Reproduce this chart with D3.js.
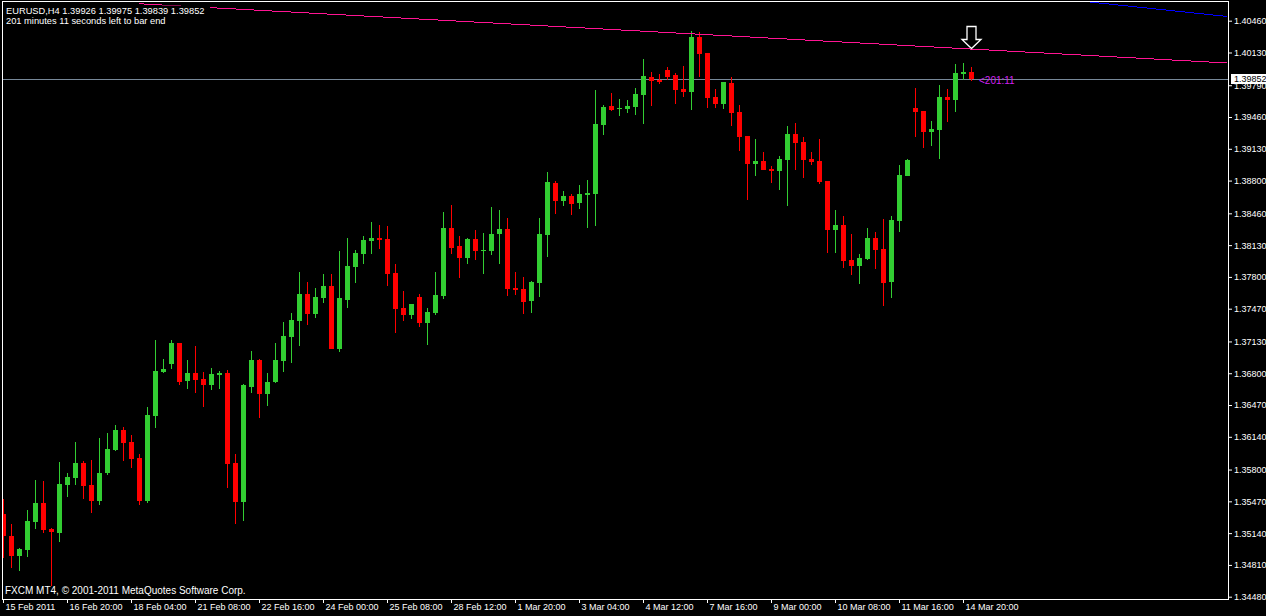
<!DOCTYPE html>
<html>
<head>
<meta charset="utf-8">
<script src="https://cdn.jsdelivr.net/npm/d3@7"></script>
<style>
body{margin:0;background:#000;overflow:hidden}
svg{display:block}
text{font-family:"Liberation Sans",Arial,sans-serif}
</style>
</head>
<body>
<svg width="1266" height="616"></svg>
<script>
// EURUSD H4, 122 bars
var symbol = "EURUSD,H4";
var timeLabels = ["15 Feb 2011","16 Feb 20:00","18 Feb 04:00","21 Feb 08:00","22 Feb 16:00","24 Feb 00:00",
  "25 Feb 08:00","28 Feb 12:00","1 Mar 20:00","3 Mar 04:00","4 Mar 12:00","7 Mar 16:00","9 Mar 00:00",
  "10 Mar 08:00","11 Mar 16:00","14 Mar 20:00"];
var priceTicks = [1.40460,1.40130,1.39790,1.39460,1.39130,1.38800,1.38460,1.38130,1.37800,1.37470,
  1.37130,1.36800,1.36470,1.36140,1.35800,1.35470,1.35140,1.34810,1.34480];

var opens = [1.35339,1.35115,1.34906,1.34968,1.35259,1.35453,1.35183,1.35144,1.35643,1.35715,
  1.35868,1.35640,1.35477,1.35767,1.36006,1.36211,1.36086,1.35920,1.35477,1.36359,
  1.36813,1.36899,1.37114,1.36723,1.36802,1.36740,1.36681,1.36782,1.36802,1.35868,
  1.35466,1.36660,1.36937,1.36588,1.36712,1.36930,1.37179,1.37345,1.37623,1.37418,
  1.37584,1.37706,1.37055,1.37564,1.37906,1.38041,1.38176,1.38204,1.38194,1.37841,
  1.37477,1.37408,1.37591,1.37325,1.37428,1.37605,1.38308,1.38121,1.38000,1.38194,
  1.38072,1.38072,1.38249,1.38297,1.37688,1.37675,1.37553,1.37740,1.38238,1.38775,
  1.38591,1.38640,1.38571,1.38654,1.38664,1.39380,1.39574,1.39543,1.39543,1.39567,
  1.39692,1.39876,1.39844,1.39948,1.39896,1.39751,1.39720,1.40291,1.40125,1.39668,
  1.39595,1.39813,1.39512,1.39263,1.38972,1.39003,1.38920,1.38900,1.39014,1.39284,
  1.39201,1.39024,1.39003,1.38796,1.38287,1.38339,1.37976,1.37913,1.37986,1.38204,
  1.38090,1.37747,1.38381,1.38848,1.39554,1.39523,1.39305,1.39325,1.39668,1.39637,
  1.39907,1.39926];
var highs = [1.35494,1.35235,1.34983,1.35380,1.35692,1.35681,1.35193,1.35878,1.35761,1.36086,
  1.35889,1.35899,1.36128,1.36180,1.36263,1.36242,1.36159,1.35962,1.36449,1.37145,
  1.36948,1.37145,1.37118,1.36937,1.37083,1.36813,1.36854,1.36823,1.36834,1.35962,
  1.36685,1.37031,1.36948,1.36802,1.37114,1.37332,1.37425,1.37851,1.37747,1.37685,
  1.37830,1.37830,1.38069,1.38204,1.38079,1.38225,1.38370,1.38339,1.38329,1.37934,
  1.37654,1.37522,1.37623,1.37477,1.37851,1.38474,1.38547,1.38225,1.38204,1.38287,
  1.38256,1.38526,1.38495,1.38412,1.37851,1.37799,1.37761,1.38412,1.38889,1.38796,
  1.38692,1.38661,1.38754,1.38806,1.39741,1.39585,1.39709,1.39647,1.39637,1.39761,
  1.40062,1.39927,1.39907,1.39979,1.39917,1.39990,1.40353,1.40343,1.40128,1.39751,
  1.39826,1.39876,1.39585,1.39266,1.39232,1.39097,1.38952,1.39055,1.39367,1.39398,
  1.39253,1.39097,1.39232,1.38799,1.38495,1.38432,1.38246,1.38038,1.38308,1.38266,
  1.38401,1.38432,1.38962,1.39024,1.39761,1.39526,1.39419,1.39792,1.39751,1.40011,
  1.40021,1.39975];
var lows = [1.34885,1.34781,1.34750,1.34895,1.35183,1.35144,1.34591,1.35051,1.35515,1.35640,
  1.35494,1.35352,1.35435,1.35743,1.35996,1.35892,1.35819,1.35435,1.35456,1.36235,
  1.36802,1.36847,1.36681,1.36639,1.36598,1.36453,1.36629,1.36639,1.35612,1.35238,
  1.35269,1.36598,1.36338,1.36463,1.36702,1.36816,1.36909,1.37086,1.37304,1.37377,
  1.37532,1.37052,1.37024,1.37480,1.37740,1.37937,1.38041,1.38093,1.37709,1.37221,
  1.37345,1.37366,1.37283,1.37096,1.37408,1.37574,1.38041,1.37792,1.37937,1.37979,
  1.37833,1.38031,1.37937,1.37605,1.37615,1.37418,1.37428,1.37595,1.38010,1.38456,
  1.38539,1.38446,1.38508,1.38311,1.38332,1.39276,1.39523,1.39474,1.39502,1.39484,
  1.39391,1.39574,1.39803,1.39844,1.39595,1.39668,1.39533,1.39876,1.39554,1.39554,
  1.39543,1.39367,1.39107,1.38599,1.38848,1.38907,1.38775,1.38702,1.38536,1.38910,
  1.38827,1.38962,1.38765,1.38048,1.38048,1.37893,1.37820,1.37726,1.37976,1.37882,
  1.37498,1.37581,1.38266,1.38845,1.39253,1.39138,1.39159,1.39024,1.39408,1.39512,
  1.39844,1.39839];
var closes = [1.35113,1.34906,1.34975,1.35266,1.35453,1.35176,1.35155,1.35650,1.35723,1.35868,
  1.35632,1.35477,1.35764,1.36013,1.36211,1.36079,1.35913,1.35477,1.36366,1.36823,
  1.36844,1.37114,1.36712,1.36802,1.36733,1.36681,1.36792,1.36806,1.35861,1.35466,
  1.36678,1.36937,1.36588,1.36709,1.36937,1.37187,1.37353,1.37623,1.37418,1.37591,
  1.37706,1.37055,1.37581,1.37913,1.38048,1.38183,1.38204,1.38186,1.37833,1.37470,
  1.37408,1.37519,1.37325,1.37436,1.37612,1.38308,1.38103,1.38000,1.38194,1.38072,
  1.38083,1.38246,1.38297,1.37678,1.37667,1.37543,1.37750,1.38246,1.38785,1.38591,
  1.38640,1.38560,1.38661,1.38671,1.39388,1.39564,1.39536,1.39554,1.39574,1.39699,
  1.39886,1.39837,1.39824,1.39876,1.39741,1.39720,1.40291,1.40114,1.39658,1.39595,
  1.39824,1.39502,1.39253,1.38972,1.39003,1.38910,1.38900,1.39024,1.39284,1.39190,
  1.39014,1.38993,1.38785,1.38287,1.38339,1.37965,1.37913,1.37996,1.38204,1.38079,
  1.37737,1.38391,1.38858,1.39014,1.39512,1.39305,1.39336,1.39668,1.39637,1.39917,
  1.39927,1.39852];

// trendlines as [bar index, price]
var pinkLine = [[17, 1.40636], [153, 1.40021]];
var blueLine = [[134.6, 1.40665], [153, 1.40504]];
var timerText = "201 minutes 11 seconds left to bar end";
var countdownText = "<201:11";
var copyText = "FXCM MT4, \u00a9 2001-2011 MetaQuotes Software Corp.";

var bullColor = "#32cd32", bearColor = "#ff0000";

function draw()
{
  var svg = d3.select("svg");
  var n = opens.length;
  var x = d3.scaleLinear().domain([0, 121]).range([3, 971]);
  var y = d3.scaleLinear().domain([1.34480, 1.40460]).range([596.7, 20.7]);
  var fmt = d3.format(".5f");
  var last = n - 1;

  var bars = [];
  for(var i=0;i<n;i++)
  {
    bars.push({i:i, o:opens[i], h:highs[i], l:lows[i], c:closes[i]});
  }

  svg.append("rect").attr("width", 1266).attr("height", 616).attr("fill", "#000");

  svg.append("clipPath").attr("id", "plot")
    .append("rect").attr("x", 3).attr("y", 2).attr("width", 1225).attr("height", 597);

  // bid line
  var bidY = Math.floor(y(closes[last])) + 0.5;
  svg.append("line")
    .attr("x1", 3).attr("x2", 1228).attr("y1", bidY).attr("y2", bidY)
    .attr("stroke", "#778899").attr("stroke-width", 1).attr("shape-rendering", "crispEdges");

  var g = svg.append("g").attr("clip-path", "url(#plot)").attr("shape-rendering", "crispEdges");

  g.selectAll("rect.wick")
    .data(bars).enter()
    .append("rect")
    .attr("class", "wick")
    .attr("x", d => Math.round(x(d.i)))
    .attr("width", 1)
    .attr("y", d => Math.round(y(d.h)))
    .attr("height", d => Math.max(1, Math.round(y(d.l)) - Math.round(y(d.h))))
    .attr("fill", d => d.c >= d.o ? bullColor : bearColor);

  g.selectAll("rect.body")
    .data(bars).enter()
    .append("rect")
    .attr("class", "body")
    .attr("x", d => Math.round(x(d.i)) - 2)
    .attr("width", 5)
    .attr("y", d => Math.round(y(Math.max(d.o, d.c))))
    .attr("height", d => Math.max(1, Math.round(y(Math.min(d.o, d.c))) - Math.round(y(Math.max(d.o, d.c)))))
    .attr("fill", d => d.c >= d.o ? bullColor : bearColor);

  // trendlines
  var lines = [{pts:pinkLine, col:"#ff1493"}, {pts:blueLine, col:"#0000ff"}];
  g.selectAll("line.trend")
    .data(lines).enter()
    .append("line")
    .attr("class", "trend")
    .attr("x1", d => x(d.pts[0][0])).attr("y1", d => y(d.pts[0][1]))
    .attr("x2", d => x(d.pts[1][0])).attr("y2", d => y(d.pts[1][1]))
    .attr("stroke", d => d.col).attr("stroke-width", 1);

  // down arrow over the last bar
  var ax = Math.round(x(last)) + 0.5;
  var at = Math.round(y(highs[last])) - 18.5;
  svg.append("path")
    .attr("d", "M" + (ax-4.5) + "," + (at-22) + "H" + (ax+4.5) + "V" + (at-9) + "H" + (ax+9.5) +
      "L" + ax + "," + at + "L" + (ax-9.5) + "," + (at-9) + "H" + (ax-4.5) + "Z")
    .attr("fill", "#000").attr("stroke", "#fff").attr("stroke-width", 1.3);

  svg.append("text")
    .attr("x", x(last) + 8).attr("y", y(closes[last]) + 5)
    .attr("fill", "#d020f0").style("font-size", "10px")
    .text(countdownText);

  // frame
  svg.append("rect")
    .attr("x", 2.5).attr("y", 1.5).attr("width", 1226).attr("height", 598)
    .attr("fill", "none").attr("stroke", "#fff").attr("stroke-width", 1)
    .attr("shape-rendering", "crispEdges");

  // price scale
  var yAxis = d3.axisRight(y).tickValues(priceTicks).tickSize(3).tickPadding(2).tickFormat(fmt);
  var gy = svg.append("g").attr("transform", "translate(1229,0)").call(yAxis)
    .attr("font-family", "'Liberation Sans',Arial,sans-serif").attr("font-size", 9);
  gy.select(".domain").remove();
  gy.selectAll("line").attr("stroke", "#fff");
  gy.selectAll("text").attr("fill", "#fff");

  // last price box
  var by = Math.round(y(closes[last]));
  svg.append("rect")
    .attr("x", 1231).attr("y", by - 5).attr("width", 35).attr("height", 10)
    .attr("fill", "#fff");
  svg.append("text")
    .attr("x", 1234).attr("y", by).attr("dy", "0.34em")
    .attr("fill", "#000").style("font-size", "9px")
    .text(fmt(closes[last]));

  // time scale
  var xAxis = d3.axisBottom(x)
    .tickValues(timeLabels.map((d, k) => k * 8))
    .tickSize(4)
    .tickFormat((d, k) => timeLabels[k]);
  var gx = svg.append("g").attr("transform", "translate(0,599)").call(xAxis)
    .attr("font-family", "'Liberation Sans',Arial,sans-serif").attr("font-size", 9);
  gx.select(".domain").remove();
  gx.selectAll("line").attr("stroke", "#fff");
  gx.selectAll("text").attr("fill", "#fff")
    .attr("text-anchor", "start").attr("x", 2).attr("y", 5).attr("dy", "0.71em");

  // header
  svg.append("rect").attr("x", 3).attr("y", 5.5).attr("width", 207).attr("height", 21).attr("fill", "#000");
  var header = symbol + "  " + [opens[last], highs[last], lows[last], closes[last]].map(fmt).join(" ");
  svg.append("text").attr("x", 6).attr("y", 14)
    .attr("fill", "#fff").style("font-size", "9.3px").text(header);
  svg.append("text").attr("x", 6).attr("y", 24)
    .attr("fill", "#fff").style("font-size", "9.3px").text(timerText);

  svg.append("text").attr("x", 5).attr("y", 594)
    .attr("fill", "#fff").style("font-size", "10px").text(copyText);
}

draw();
</script>
</body>
</html>
